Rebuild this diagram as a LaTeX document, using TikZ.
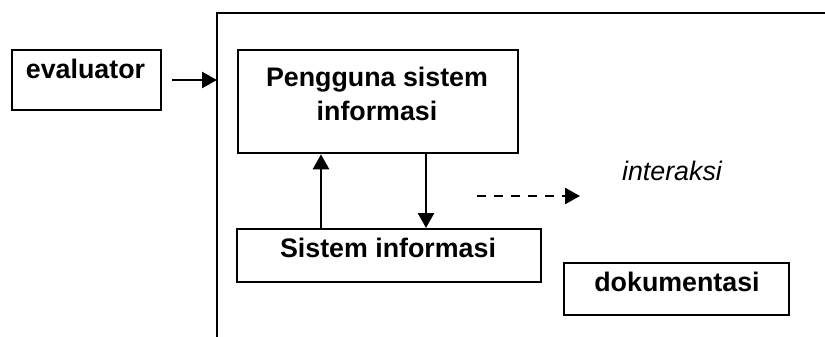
\documentclass[tikz,border=0pt]{standalone}
\usepackage{fontspec}
\setmainfont{Liberation Sans}
\usetikzlibrary{arrows.meta}
\begin{document}
\begin{tikzpicture}[x=1pt,y=-1pt,
  box/.style={draw,line width=2.3pt,rectangle,inner sep=0pt,anchor=north west},
  lbl/.style={inner sep=0pt,anchor=base,font=\fontsize{26.8}{30}\selectfont\bfseries},
  ilbl/.style={inner sep=0pt,anchor=base,font=\fontsize{26.8}{30}\selectfont\itshape},
  arr/.style={line width=2.5pt,-{Triangle[length=15pt,width=16pt]}}]
\useasboundingbox (0,0) rectangle (825,337);
% open frame
\coordinate (ftop) at (217,13);
\coordinate (fbot) at (217,337);
\coordinate (fright) at (825,13);
\draw[line width=2.5pt] (fbot) -- (ftop) -- (fright);
% boxes
\node[box,minimum width=149pt,minimum height=60pt] (ev) at (11,49) {};
\node[box,minimum width=280pt,minimum height=103pt] (pg) at (237,49) {};
\node[box,minimum width=304pt,minimum height=53pt] (si) at (236,228) {};
\node[box,minimum width=225pt,minimum height=52pt] (dk) at (563,262) {};
% texts
\node[lbl] (evt) at (85.5,78) {evaluator};
\node[lbl] (pgt1) at (377,86) {Pengguna sistem};
\node[lbl] (pgt2) at (377,120) {informasi};
\node[lbl] (sit) at (388,257.5) {Sistem informasi};
\node[lbl] (dkt) at (677,291) {dokumentasi};
\node[ilbl] (int) at (672,180) {interaksi};
% connectors
\coordinate (evarr) at (172,80);
\draw[arr] (evarr) -- (ftop |- evarr);
\draw[arr] (si.north west) ++(85,0) coordinate (up1) -- (up1 |- pg.south);
\draw[arr] (pg.south west) ++(189,0) coordinate (dn1) -- (dn1 |- si.north);
\coordinate (da1) at (477,196);
\coordinate (da2) at (580,196);
\draw[arr,dash pattern=on 9pt off 8pt] (da1) -- (da2);
\end{tikzpicture}
\end{document}
